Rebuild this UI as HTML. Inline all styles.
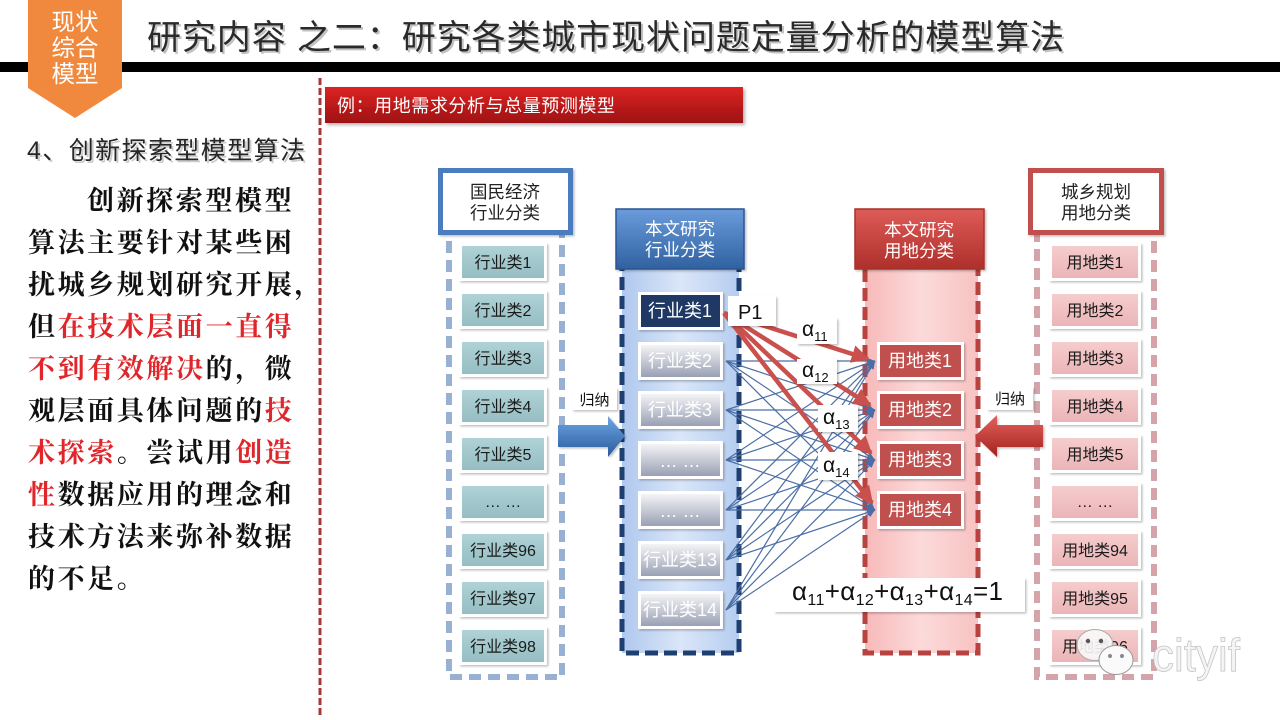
<!DOCTYPE html>
<html><head><meta charset="utf-8"><style>
html,body{margin:0;padding:0;background:#fff;}
svg{display:block}
text{font-family:"Liberation Sans","Noto Sans CJK SC",sans-serif;}
.ser text, text.ser{font-family:"Liberation Serif","Noto Serif CJK SC",serif;font-weight:700;}
</style></head><body>
<svg width="1280" height="720" viewBox="0 0 1280 720" xmlns="http://www.w3.org/2000/svg">
<defs>
<filter id="ds" x="-20%" y="-20%" width="150%" height="150%"><feDropShadow dx="2" dy="2" stdDeviation="1.5" flood-color="#000" flood-opacity="0.3"/></filter>
<filter id="ds2" x="-20%" y="-20%" width="150%" height="150%"><feDropShadow dx="1.5" dy="1.5" stdDeviation="1" flood-color="#000" flood-opacity="0.25"/></filter>
<linearGradient id="gBlueHdr" x1="0" y1="0" x2="0" y2="1"><stop offset="0" stop-color="#6a9bdc"/><stop offset="1" stop-color="#30619f"/></linearGradient>
<linearGradient id="gRedHdr" x1="0" y1="0" x2="0" y2="1"><stop offset="0" stop-color="#de5c58"/><stop offset="1" stop-color="#ad2f2b"/></linearGradient>
<linearGradient id="gGray" x1="0" y1="0" x2="0" y2="1"><stop offset="0" stop-color="#f4f4f6"/><stop offset="1" stop-color="#99a0b4"/></linearGradient>
<linearGradient id="gTeal" x1="0" y1="0" x2="0" y2="1"><stop offset="0" stop-color="#afd2d6"/><stop offset="1" stop-color="#95bec3"/></linearGradient>
<linearGradient id="gPink" x1="0" y1="0" x2="0" y2="1"><stop offset="0" stop-color="#f5cccd"/><stop offset="1" stop-color="#ebb5b7"/></linearGradient>
<linearGradient id="gLB" x1="0" y1="0" x2="1" y2="0"><stop offset="0" stop-color="#afc8ee"/><stop offset="0.5" stop-color="#dae6f8"/><stop offset="1" stop-color="#b6cdf0"/></linearGradient>
<linearGradient id="gLP" x1="0" y1="0" x2="1" y2="0"><stop offset="0" stop-color="#f7b9b9"/><stop offset="0.5" stop-color="#fcdada"/><stop offset="1" stop-color="#f8c2c2"/></linearGradient>
<linearGradient id="gBanner" x1="0" y1="0" x2="0" y2="1"><stop offset="0" stop-color="#dc2423"/><stop offset="1" stop-color="#9e1113"/></linearGradient>
<linearGradient id="gBA" x1="0" y1="0" x2="0" y2="1"><stop offset="0" stop-color="#6ea6e4"/><stop offset="1" stop-color="#295a9b"/></linearGradient>
<linearGradient id="gRA" x1="0" y1="0" x2="0" y2="1"><stop offset="0" stop-color="#e4615d"/><stop offset="1" stop-color="#a2211e"/></linearGradient>
<marker id="ab" viewBox="0 0 10 10" refX="10" refY="5" markerWidth="8" markerHeight="8" markerUnits="userSpaceOnUse" orient="auto"><path d="M0,1 L10,5 L0,9 z" fill="#4b6ea6"/></marker>
<marker id="ar" viewBox="0 0 10 10" refX="9" refY="5" markerWidth="18" markerHeight="18" markerUnits="userSpaceOnUse" orient="auto"><path d="M0,0 L10,5 L0,10 z" fill="#c9504c"/></marker>
</defs>

<!-- header -->
<rect x="0" y="62" width="1280" height="10" fill="#000"/>
<polygon points="28,0 122,0 122,88 75,118 28,88" fill="#f0893d"/>
<g fill="#fff" font-size="23.5" text-anchor="middle">
<text x="75" y="30">现状</text>
<text x="75" y="56">综合</text>
<text x="75" y="82">模型</text>
</g>
<text x="149" y="51" font-size="34" fill="#999" opacity="0.6" textLength="917" lengthAdjust="spacing">研究内容 之二：研究各类城市现状问题定量分析的模型算法</text>
<text x="147" y="49" font-size="34" fill="#2a2a2a" textLength="917" lengthAdjust="spacing">研究内容 之二：研究各类城市现状问题定量分析的模型算法</text>

<!-- divider -->
<line x1="320" y1="78" x2="320" y2="716" stroke="#a83838" stroke-width="3" stroke-dasharray="7 3"/>

<!-- banner -->
<rect x="325" y="87" width="418" height="36" fill="url(#gBanner)" filter="url(#ds)"/>
<text x="337" y="112" font-size="18" fill="#fff" textLength="278" lengthAdjust="spacing">例：用地需求分析与总量预测模型</text>

<!-- left text -->
<text x="29" y="161" font-size="25" fill="#aaa" opacity="0.6" textLength="278" lengthAdjust="spacing">4、创新探索型模型算法</text>
<text x="27" y="159" font-size="25" fill="#262626" textLength="278" lengthAdjust="spacing">4、创新探索型模型算法</text>

<g class="ser" font-size="27" fill="#111" letter-spacing="2.6">
<text x="87" y="210">创新探索型模型</text>
<text x="28" y="252">算法主要针对某些困</text>
<text x="28" y="294">扰城乡规划研究开展，</text>
<text x="28" y="336">但<tspan fill="#e0262a">在技术层面一直得</tspan></text>
<text x="28" y="378"><tspan fill="#e0262a">不到有效解决</tspan>的，微</text>
<text x="28" y="420">观层面具体问题的<tspan fill="#e0262a">技</tspan></text>
<text x="28" y="462"><tspan fill="#e0262a">术探索</tspan>。尝试用<tspan fill="#e0262a">创造</tspan></text>
<text x="28" y="504"><tspan fill="#e0262a">性</tspan>数据应用的理念和</text>
<text x="28" y="546">技术方法来弥补数据</text>
<text x="28" y="588">的不足。</text>
</g>

<!-- column 1 -->
<rect x="449" y="225" width="113" height="452" fill="none" stroke="#98b0d2" stroke-width="6" stroke-dasharray="12 7"/>
<rect x="440.5" y="170.5" width="130" height="62" fill="#fff" stroke="#4c7bbf" stroke-width="5" filter="url(#ds2)"/>
<g font-size="17.5" fill="#222" text-anchor="middle">
<text x="505" y="198">国民经济</text>
<text x="505" y="219">行业分类</text>
</g>
<g filter="url(#ds2)" fill="#fff">
<rect x="459" y="243" width="88" height="38"/>
<rect x="459" y="291" width="88" height="38"/>
<rect x="459" y="339" width="88" height="38"/>
<rect x="459" y="387" width="88" height="38"/>
<rect x="459" y="435" width="88" height="38"/>
<rect x="459" y="483" width="88" height="38"/>
<rect x="459" y="531" width="88" height="38"/>
<rect x="459" y="579" width="88" height="38"/>
<rect x="459" y="627" width="88" height="38"/>
</g>
<g fill="url(#gTeal)">
<rect x="462" y="246" width="82" height="32"/>
<rect x="462" y="294" width="82" height="32"/>
<rect x="462" y="342" width="82" height="32"/>
<rect x="462" y="390" width="82" height="32"/>
<rect x="462" y="438" width="82" height="32"/>
<rect x="462" y="486" width="82" height="32"/>
<rect x="462" y="534" width="82" height="32"/>
<rect x="462" y="582" width="82" height="32"/>
<rect x="462" y="630" width="82" height="32"/>
</g>
<g font-size="16" fill="#1a1a1a" text-anchor="middle">
<text x="503" y="268">行业类1</text>
<text x="503" y="316">行业类2</text>
<text x="503" y="364">行业类3</text>
<text x="503" y="412">行业类4</text>
<text x="503" y="460">行业类5</text>
<text x="503" y="507">… …</text>
<text x="503" y="556">行业类96</text>
<text x="503" y="604">行业类97</text>
<text x="503" y="652">行业类98</text>
</g>

<!-- column 4 -->
<rect x="1037" y="225" width="117" height="452" fill="none" stroke="#d5a3aa" stroke-width="6" stroke-dasharray="12 7"/>
<rect x="1030.5" y="170.5" width="131" height="62" fill="#fff" stroke="#c0504d" stroke-width="5" filter="url(#ds2)"/>
<g font-size="17.5" fill="#222" text-anchor="middle">
<text x="1096" y="198">城乡规划</text>
<text x="1096" y="219">用地分类</text>
</g>
<g filter="url(#ds2)" fill="#fff">
<rect x="1049" y="243" width="92" height="38"/>
<rect x="1049" y="291" width="92" height="38"/>
<rect x="1049" y="339" width="92" height="38"/>
<rect x="1049" y="387" width="92" height="38"/>
<rect x="1049" y="435" width="92" height="38"/>
<rect x="1049" y="483" width="92" height="38"/>
<rect x="1049" y="531" width="92" height="38"/>
<rect x="1049" y="579" width="92" height="38"/>
<rect x="1049" y="627" width="92" height="38"/>
</g>
<g fill="url(#gPink)">
<rect x="1052" y="246" width="86" height="32"/>
<rect x="1052" y="294" width="86" height="32"/>
<rect x="1052" y="342" width="86" height="32"/>
<rect x="1052" y="390" width="86" height="32"/>
<rect x="1052" y="438" width="86" height="32"/>
<rect x="1052" y="486" width="86" height="32"/>
<rect x="1052" y="534" width="86" height="32"/>
<rect x="1052" y="582" width="86" height="32"/>
<rect x="1052" y="630" width="86" height="32"/>
</g>
<g font-size="16" fill="#1a1a1a" text-anchor="middle">
<text x="1095" y="268">用地类1</text>
<text x="1095" y="316">用地类2</text>
<text x="1095" y="364">用地类3</text>
<text x="1095" y="412">用地类4</text>
<text x="1095" y="460">用地类5</text>
<text x="1095" y="507">… …</text>
<text x="1095" y="556">用地类94</text>
<text x="1095" y="604">用地类95</text>
<text x="1095" y="652">用地类96</text>
</g>

<!-- column 2 -->
<rect x="622" y="262" width="117" height="391" fill="url(#gLB)" stroke="#1f3f70" stroke-width="5" stroke-dasharray="13 6"/>
<rect x="616" y="209" width="128" height="60" fill="url(#gBlueHdr)" stroke="#2a5594" stroke-width="1.5" filter="url(#ds2)"/>
<g font-size="17.5" fill="#fff" text-anchor="middle">
<text x="680" y="235">本文研究</text>
<text x="680" y="256">行业分类</text>
</g>
<g filter="url(#ds2)" fill="#fff">
<rect x="638" y="292" width="85" height="38"/>
<rect x="638" y="342" width="85" height="38"/>
<rect x="638" y="391" width="85" height="38"/>
<rect x="638" y="441" width="85" height="38"/>
<rect x="638" y="491" width="85" height="38"/>
<rect x="638" y="541" width="85" height="38"/>
<rect x="638" y="591" width="85" height="38"/>
</g>
<rect x="641" y="295" width="79" height="32" fill="#1f3864"/>
<g fill="url(#gGray)">
<rect x="641" y="345" width="79" height="32"/>
<rect x="641" y="394" width="79" height="32"/>
<rect x="641" y="444" width="79" height="32"/>
<rect x="641" y="494" width="79" height="32"/>
<rect x="641" y="544" width="79" height="32"/>
<rect x="641" y="594" width="79" height="32"/>
</g>
<g font-size="18" fill="#fff" text-anchor="middle">
<text x="680" y="317">行业类1</text>
<text x="680" y="367">行业类2</text>
<text x="680" y="416">行业类3</text>
<text x="680" y="467">… …</text>
<text x="680" y="517">… …</text>
<text x="680" y="566">行业类13</text>
<text x="680" y="616">行业类14</text>
</g>

<!-- column 3 -->
<rect x="865" y="262" width="113" height="391" fill="url(#gLP)" stroke="#b8423f" stroke-width="5" stroke-dasharray="13 6"/>
<rect x="855" y="209" width="129" height="60" fill="url(#gRedHdr)" stroke="#a8302c" stroke-width="1.5" filter="url(#ds2)"/>
<g font-size="17.5" fill="#fff" text-anchor="middle">
<text x="919" y="236">本文研究</text>
<text x="919" y="257">用地分类</text>
</g>
<g filter="url(#ds2)" fill="#fff">
<rect x="877" y="342" width="87" height="38"/>
<rect x="877" y="391" width="87" height="38"/>
<rect x="877" y="441" width="87" height="38"/>
<rect x="877" y="491" width="87" height="38"/>
</g>
<g fill="#c0504d">
<rect x="880" y="345" width="81" height="32"/>
<rect x="880" y="394" width="81" height="32"/>
<rect x="880" y="444" width="81" height="32"/>
<rect x="880" y="494" width="81" height="32"/>
</g>
<g font-size="18" fill="#fff" text-anchor="middle">
<text x="920" y="367">用地类1</text>
<text x="920" y="416">用地类2</text>
<text x="920" y="466">用地类3</text>
<text x="920" y="516">用地类4</text>
</g>

<!-- blue connectors -->
<g stroke="#4b6ea6" stroke-width="1.2" marker-end="url(#ab)">
<line x1="726" y1="361" x2="875" y2="361"/><line x1="726" y1="361" x2="875" y2="410"/><line x1="726" y1="361" x2="875" y2="460"/><line x1="726" y1="361" x2="875" y2="510"/>
<line x1="726" y1="410" x2="875" y2="361"/><line x1="726" y1="410" x2="875" y2="410"/><line x1="726" y1="410" x2="875" y2="460"/><line x1="726" y1="410" x2="875" y2="510"/>
<line x1="726" y1="460" x2="875" y2="361"/><line x1="726" y1="460" x2="875" y2="410"/><line x1="726" y1="460" x2="875" y2="460"/><line x1="726" y1="460" x2="875" y2="510"/>
<line x1="726" y1="510" x2="875" y2="361"/><line x1="726" y1="510" x2="875" y2="410"/><line x1="726" y1="510" x2="875" y2="460"/><line x1="726" y1="510" x2="875" y2="510"/>
<line x1="726" y1="560" x2="875" y2="361"/><line x1="726" y1="560" x2="875" y2="410"/><line x1="726" y1="560" x2="875" y2="460"/><line x1="726" y1="560" x2="875" y2="510"/>
<line x1="726" y1="610" x2="875" y2="361"/><line x1="726" y1="610" x2="875" y2="410"/><line x1="726" y1="610" x2="875" y2="460"/><line x1="726" y1="610" x2="875" y2="510"/>
</g>
<!-- red connectors -->
<g stroke="#c9504c" stroke-width="4.5" marker-end="url(#ar)">
<line x1="724" y1="313" x2="868" y2="359"/>
<line x1="724" y1="313" x2="870" y2="405"/>
<line x1="724" y1="313" x2="871" y2="453"/>
<line x1="724" y1="313" x2="872" y2="503"/>
</g>

<!-- P1 and alpha labels -->
<g fill="#fff" filter="url(#ds2)">
<rect x="728" y="296" width="48" height="30"/>
<rect x="797" y="318" width="40" height="26"/>
<rect x="797" y="359" width="40" height="25"/>
<rect x="818" y="405" width="40" height="27"/>
<rect x="818" y="452" width="40" height="28"/>
</g>
<text x="738" y="319" font-size="20" fill="#111">P1</text>
<g font-size="21" fill="#111">
<text x="802" y="336">α<tspan font-size="13" dy="5">11</tspan></text>
<text x="802" y="377">α<tspan font-size="13" dy="5">12</tspan></text>
<text x="823" y="424">α<tspan font-size="13" dy="5">13</tspan></text>
<text x="823" y="472">α<tspan font-size="13" dy="5">14</tspan></text>
</g>

<!-- formula -->
<rect x="774" y="578" width="251" height="34" fill="#fff" filter="url(#ds2)"/>
<text x="792" y="600" font-size="26" fill="#111" textLength="211" lengthAdjust="spacing">α<tspan font-size="16" dy="5">11</tspan><tspan dy="-5">+α</tspan><tspan font-size="16" dy="5">12</tspan><tspan dy="-5">+α</tspan><tspan font-size="16" dy="5">13</tspan><tspan dy="-5">+α</tspan><tspan font-size="16" dy="5">14</tspan><tspan dy="-5">=1</tspan></text>

<!-- arrows -->
<path d="M558,425 L608,425 L608,416 L625,436 L608,457 L608,447 L558,447 Z" fill="url(#gBA)" filter="url(#ds2)"/>
<rect x="572" y="388" width="45" height="22" fill="#fff" filter="url(#ds2)"/>
<text x="594.5" y="405" font-size="15" fill="#111" text-anchor="middle">归纳</text>
<path d="M1043,425 L997,425 L997,415 L975,436 L997,457 L997,447 L1043,447 Z" fill="url(#gRA)" filter="url(#ds2)"/>
<rect x="987" y="387" width="46" height="23" fill="#fff" filter="url(#ds2)"/>
<text x="1010" y="404" font-size="15" fill="#111" text-anchor="middle">归纳</text>

<!-- watermark -->
<ellipse cx="1095" cy="645" rx="18" ry="15.5" fill="#fafafa" fill-opacity="0.9" stroke="#aaa" stroke-width="1"/>
<circle cx="1088" cy="641" r="2.2" fill="#555"/><circle cx="1101" cy="641" r="2.2" fill="#555"/>
<ellipse cx="1116" cy="660" rx="17" ry="14.5" fill="#fafafa" stroke="#999" stroke-width="1"/>
<circle cx="1110" cy="656" r="2" fill="#888"/><circle cx="1122" cy="656" r="2" fill="#888"/>
<text x="1152" y="671" font-size="46" fill="#f4f4f4" stroke="#c4c4c4" stroke-width="0.8" textLength="88" lengthAdjust="spacingAndGlyphs">cityif</text>
</svg>
</body></html>
